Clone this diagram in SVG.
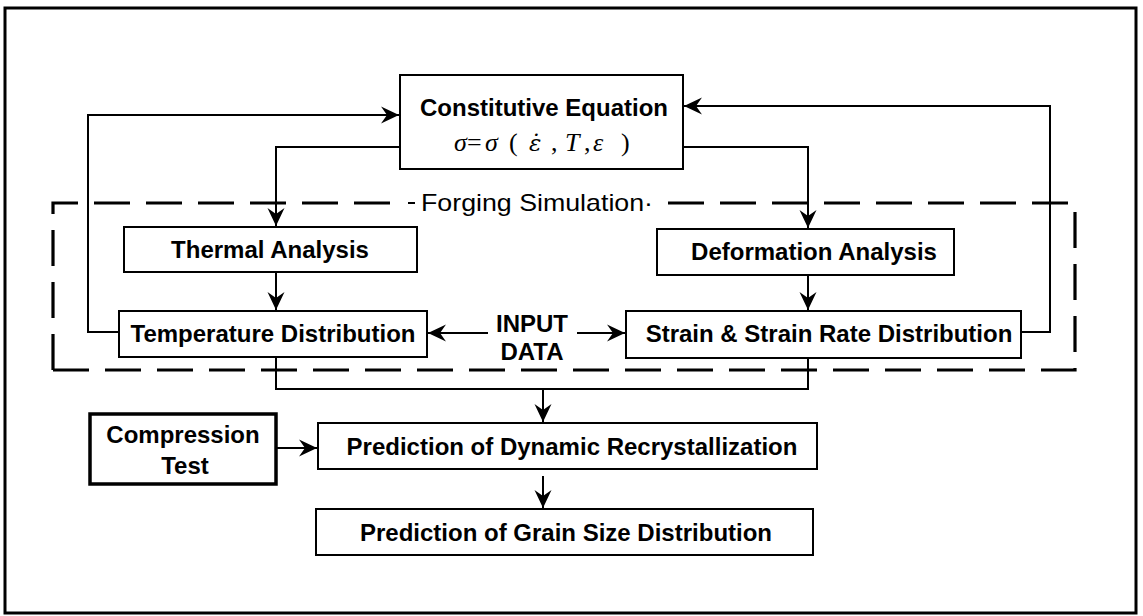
<svg xmlns="http://www.w3.org/2000/svg" width="1143" height="616" viewBox="0 0 1143 616">
<style>
.box{fill:#fff;stroke:#000;stroke-width:2}
.thick{fill:#fff;stroke:#000;stroke-width:3.5}
.lbl{font-family:"Liberation Sans",Arial,sans-serif;font-weight:bold;font-size:24px;fill:#000;text-anchor:middle}
.reg{font-family:"Liberation Sans",Arial,sans-serif;font-size:24px;fill:#000}
.eq{font-family:"Liberation Serif","Times New Roman",serif;font-size:26px;fill:#000}
.ln{fill:none;stroke:#000;stroke-width:2}
.arr{fill:none;stroke:#000;stroke-width:2;marker-end:url(#ah)}
.dash{fill:none;stroke:#000;stroke-width:3.2;stroke-dasharray:36 16}
</style>
<defs>
<marker id="ah" viewBox="-20 -10 22 20" refX="0" refY="0" markerWidth="22" markerHeight="20" markerUnits="userSpaceOnUse" orient="auto">
<path d="M0,0 L-18,-8.5 L-12,0 L-18,8.5 Z" fill="#000"/>
</marker>
</defs>
<rect x="0" y="0" width="1143" height="616" fill="#fff"/>
<rect id="frame" x="5" y="8" width="1131" height="605" fill="none" stroke="#000" stroke-width="3"/>

<g id="forging-simulation">
<path class="dash" d="M53,370 L53,203 L404,203"/>
<path class="ln" d="M408,203 L415,203" stroke-width="3"/>
<path class="dash" d="M668,203 L1075,203 L1075,370 L53,370"/>
<text class="reg" x="421" y="211" textLength="232" lengthAdjust="spacingAndGlyphs">Forging Simulation·</text>
</g>

<g id="connectors">
<path class="arr" d="M119,332 L88,332 L88,115 L399,115"/>
<path class="arr" d="M1021,332 L1050,332 L1050,106 L684,106"/>
<path class="arr" d="M400,147 L276,147 L276,226"/>
<path class="arr" d="M683,147 L808,147 L808,228"/>
<path class="arr" d="M276,273 L276,310"/>
<path class="arr" d="M808,276 L808,310"/>
<path class="arr" d="M488,333 L428,333"/>
<path class="arr" d="M577,333 L625,333"/>
<path class="ln" d="M276,358 L276,389 L808,389 L808,358"/>
<path class="arr" d="M543,389 L543,422"/>
<path class="arr" d="M277,448 L317,448"/>
<path class="arr" d="M543,476 L543,508"/>
</g>

<g id="constitutive">
<rect class="box" x="400" y="75" width="283" height="94"/>
<text class="lbl" x="544" y="116">Constitutive Equation</text>
<text class="eq" y="151"><tspan x="454" font-style="italic">σ</tspan><tspan x="467">=</tspan><tspan x="485" font-style="italic">σ</tspan><tspan x="509">(</tspan><tspan x="529" font-style="italic" font-family="'DejaVu Serif',serif" font-size="23">ε̇</tspan><tspan x="551">,</tspan><tspan x="565" font-style="italic">T</tspan><tspan x="584">,</tspan><tspan x="593" font-style="italic">ε</tspan><tspan x="621">)</tspan></text>
</g>

<g id="thermal">
<rect class="box" x="124" y="227" width="293" height="45"/>
<text class="lbl" x="270" y="258">Thermal Analysis</text>
</g>

<g id="temperature">
<rect class="box" x="119" y="311" width="308" height="46"/>
<text class="lbl" x="273" y="342">Temperature Distribution</text>
</g>

<g id="deformation">
<rect class="box" x="657" y="229" width="297" height="46"/>
<text class="lbl" x="814" y="260">Deformation Analysis</text>
</g>

<g id="strain">
<rect class="box" x="626" y="311" width="395" height="47"/>
<text class="lbl" x="829" y="342">Strain &amp; Strain Rate Distribution</text>
</g>

<g id="input-data">
<text class="lbl" x="532" y="332">INPUT</text>
<text class="lbl" x="532" y="360">DATA</text>
</g>

<g id="compression">
<rect class="thick" x="90" y="414" width="186" height="70"/>
<text class="lbl" x="183" y="443">Compression</text>
<text class="lbl" x="185" y="474">Test</text>
</g>

<g id="dynamic">
<rect class="box" x="318" y="423" width="499" height="46"/>
<text class="lbl" x="572" y="455">Prediction of Dynamic Recrystallization</text>
</g>

<g id="grain">
<rect class="box" x="316" y="509" width="497" height="46"/>
<text class="lbl" x="566" y="541">Prediction of Grain Size Distribution</text>
</g>
</svg>
